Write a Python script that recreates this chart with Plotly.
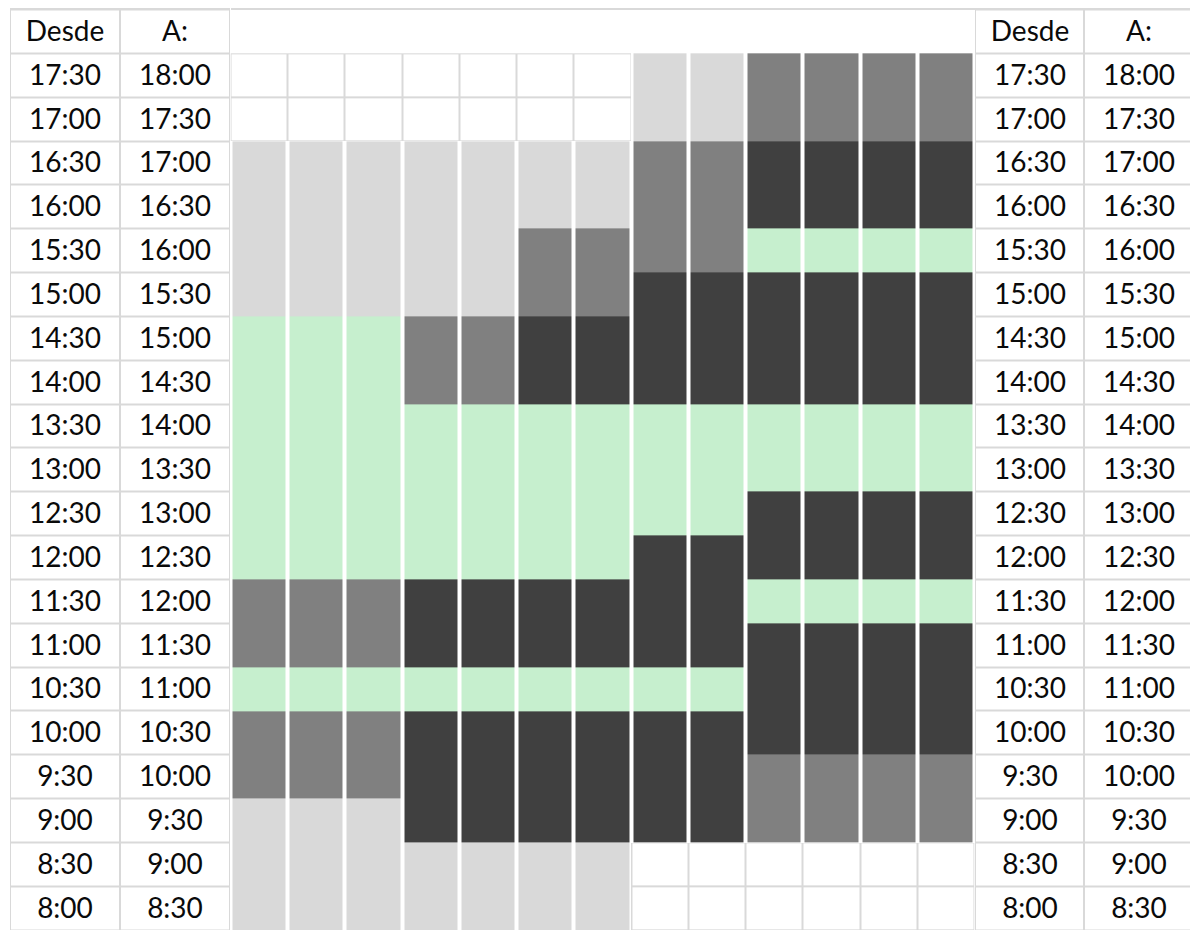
import plotly.graph_objects as go
import numpy as np

# ---------------- data ----------------
headers = ["Desde", "A:"]
desde = ["17:30", "17:00", "16:30", "16:00", "15:30", "15:00", "14:30", "14:00",
         "13:30", "13:00", "12:30", "12:00", "11:30", "11:00", "10:30", "10:00",
         "9:30", "9:00", "8:30", "8:00"]
hasta = ["18:00", "17:30", "17:00", "16:30", "16:00", "15:30", "15:00", "14:30",
         "14:00", "13:30", "13:00", "12:30", "12:00", "11:30", "11:00", "10:30",
         "10:00", "9:30", "9:00", "8:30"]

# cell states per column, listed top (17:30) to bottom (8:00)
# W = empty, L = light grey, M = mid grey, D = dark grey, G = green
col_a = "W W L L L L G G G G G G M M G M M L L L".split()
col_b = "W W L L L L M M G G G G D D G D D D L L".split()
col_c = "W W L L M M D D G G G G D D G D D D L L".split()
col_d = "L L M M M D D D G G G D D D G D D D W W".split()
col_e = "M M D D G D D D G G D D G D D D M M W W".split()
columns = [col_a, col_a, col_a, col_b, col_b, col_c, col_c,
           col_d, col_d, col_e, col_e, col_e, col_e]

state_codes = ["L", "M", "D", "G"]
state_colors = ["#d9d9d9", "#808080", "#404040", "#c6efce"]

# ---------------- styling ----------------
GRID = "#d9d9d9"
FONT = dict(family="Lato, Calibri, sans-serif", size=28, color="#0a0a0a")
W, H = 1190, 922


def px_x(X):
    return (X - 8) / W


n_rows = len(desde)
# rows bottom -> top (ascending y); header is the top-most row
order = list(range(n_rows - 1, -1, -1))          # indices into desde, bottom first
row_y = list(range(n_rows))                       # 0 .. 19
y_all = row_y + [n_rows]                          # plus header row

fig = go.Figure()

white_scale = [[0, "white"], [1, "white"]]
grid_scale = [[0, GRID], [1, GRID]]


def side_table(xaxis):
    z1 = [[1, 1] for _ in y_all]
    texts = [[desde[i], hasta[i]] for i in order] + [headers]
    fig.add_trace(go.Heatmap(x=[0, 1], y=y_all, z=z1, colorscale=grid_scale,
                             zmin=0, zmax=1, showscale=False, hoverinfo="skip",
                             xaxis=xaxis, yaxis="y"))
    fig.add_trace(go.Heatmap(x=[0, 1], y=y_all, z=z1, colorscale=white_scale,
                             zmin=0, zmax=1, showscale=False, hoverinfo="skip",
                             xgap=2, ygap=2, text=texts, texttemplate="%{text}",
                             textfont=FONT, xaxis=xaxis, yaxis="y"))


side_table("x")
side_table("x3")

# middle grid
n_cols = len(columns)
xs = list(range(n_cols))
empty_z = [[1 if columns[c][i] == "W" else np.nan for c in range(n_cols)] for i in order]
state_z = [[state_codes.index(columns[c][i]) if columns[c][i] != "W" else np.nan
            for c in range(n_cols)] for i in order]

fig.add_trace(go.Heatmap(x=xs, y=row_y, z=empty_z, colorscale=grid_scale, zmin=0, zmax=1,
                         showscale=False, hoverinfo="skip", xaxis="x2", yaxis="y"))
fig.add_trace(go.Heatmap(x=xs, y=row_y, z=empty_z, colorscale=white_scale, zmin=0, zmax=1,
                         showscale=False, hoverinfo="skip", xgap=2, ygap=2,
                         xaxis="x2", yaxis="y"))
n_s = len(state_colors)
cscale = [[k / (n_s - 1), c] for k, c in enumerate(state_colors)]
fig.add_trace(go.Heatmap(x=xs, y=row_y, z=state_z, colorscale=cscale, zmin=0, zmax=n_s - 1,
                         showscale=False, hoverinfo="skip", xgap=4, ygap=0,
                         xaxis="x2", yaxis="y"))

ax_common = dict(showgrid=False, zeroline=False, showticklabels=False, ticks="",
                 fixedrange=True, side="top", showline=True, linecolor=GRID,
                 linewidth=2, anchor="y")
fig.update_layout(
    width=W, height=H,
    margin=dict(l=0, r=0, t=0, b=0),
    paper_bgcolor="white", plot_bgcolor="white",
    xaxis=dict(domain=[px_x(10), px_x(230)], range=[-0.5, 1.5], **ax_common),
    xaxis2=dict(domain=[px_x(230.5), px_x(974.5)], range=[-0.5, n_cols - 0.5], **ax_common),
    xaxis3=dict(domain=[px_x(975), px_x(1193)], range=[-0.5, 1.5], **ax_common),
    yaxis=dict(domain=[0, 1 - 1.5 / H], range=[-0.5, n_rows + 0.5], showgrid=False,
               zeroline=False, showticklabels=False, ticks="", fixedrange=True),
    showlegend=False,
)

fig.write_html("out.html")
